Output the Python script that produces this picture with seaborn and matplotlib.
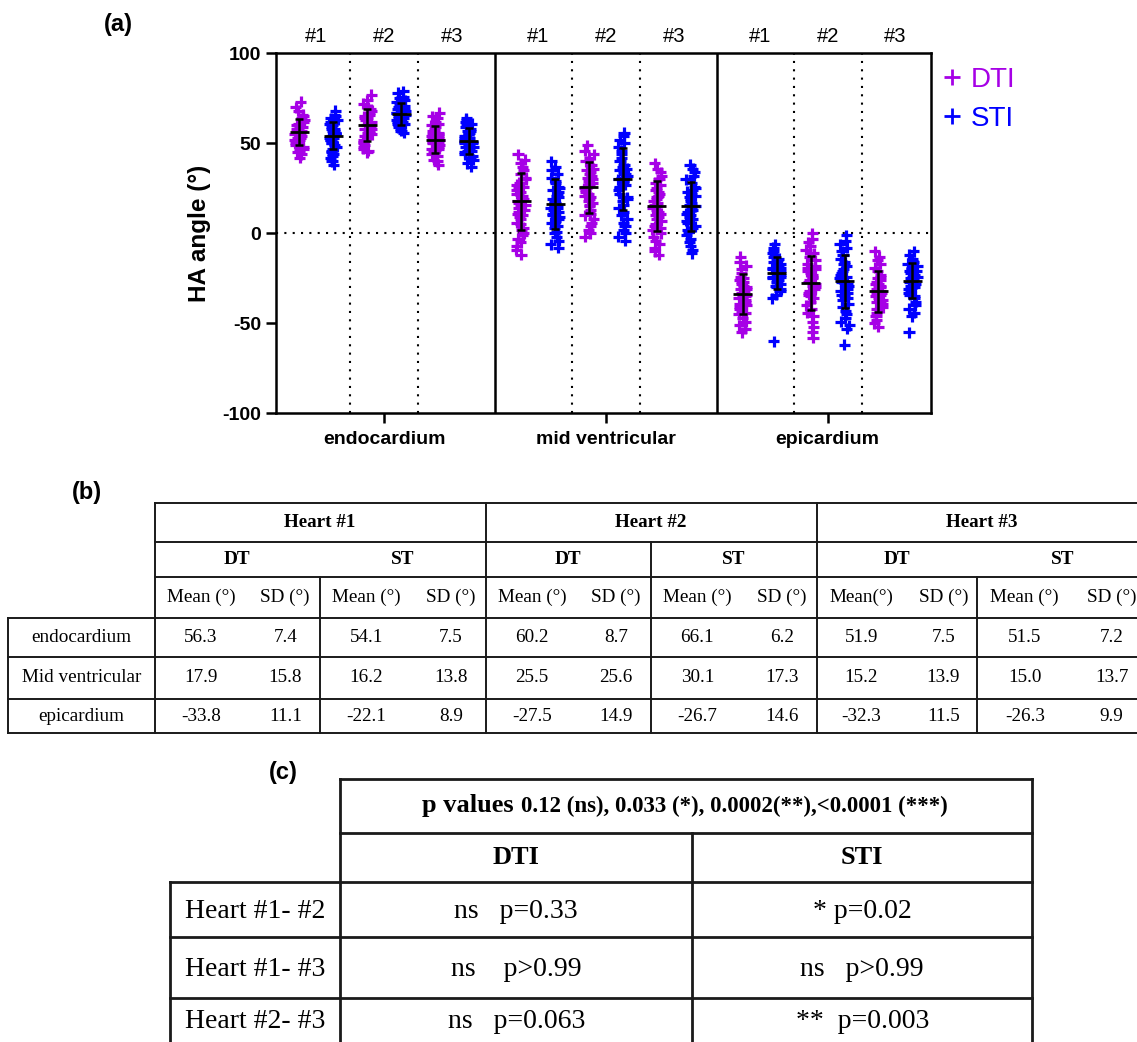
import numpy as np
import pandas as pd
import matplotlib
matplotlib.use("Agg")
import matplotlib.pyplot as plt
from matplotlib.lines import Line2D
import seaborn as sns

# === 1. Datos ===
layers = ["endocardium", "mid ventricular", "epicardium"]
hearts = ["#1", "#2", "#3"]
modalities = ["DTI", "STI"]
colors = {"DTI": "#A600E6", "STI": "#0000FF"}

# HA angle (deg) per voxel (a)
endo_dti_1 = [42, 44, 45, 46, 47, 48, 49, 50, 50, 51, 52, 52, 53, 53, 54, 54, 55, 55, 56, 56,
              57, 57, 58, 58, 59, 59, 60, 60, 61, 62, 63, 64, 65, 66, 68, 70, 73]
endo_sti_1 = [38, 40, 42, 43, 44, 45, 46, 47, 48, 49, 50, 50, 51, 52, 52, 53, 53, 54, 54, 55,
              55, 56, 56, 57, 57, 58, 58, 59, 60, 61, 62, 63, 64, 65, 66, 68]
endo_dti_2 = [45, 46, 47, 48, 49, 50, 51, 52, 53, 54, 55, 56, 56, 57, 58, 58, 59, 59, 60, 60,
              61, 61, 62, 62, 63, 64, 64, 65, 66, 67, 68, 69, 70, 72, 74, 77]
endo_sti_2 = [56, 57, 58, 59, 60, 61, 61, 62, 62, 63, 63, 64, 64, 64, 65, 65, 66, 66, 66, 67,
              67, 67, 68, 68, 69, 69, 70, 70, 71, 72, 73, 74, 75, 76, 78, 79]
endo_dti_3 = [38, 40, 41, 43, 44, 45, 46, 47, 47, 48, 49, 49, 50, 50, 51, 51, 52, 52, 52, 53,
              53, 54, 54, 55, 55, 56, 56, 57, 58, 59, 60, 61, 62, 64, 65, 67]
endo_sti_3 = [37, 39, 41, 42, 43, 44, 45, 46, 46, 47, 48, 48, 49, 50, 50, 51, 51, 51, 52, 52,
              53, 53, 54, 54, 55, 55, 56, 57, 57, 58, 59, 60, 61, 62, 63, 64]

mid_dti_1 = [-12, -9, -7, -5, -3, -1, 0, 2, 3, 5, 6, 8, 9, 10, 11, 12, 13, 14, 15, 16,
             17, 18, 19, 20, 21, 22, 23, 24, 25, 26, 27, 28, 30, 31, 33, 35, 37, 39, 41, 44]
mid_sti_1 = [-8, -6, -4, -2, 0, 1, 3, 4, 6, 7, 8, 9, 10, 11, 12, 13, 14, 14, 15, 16,
             16, 17, 18, 19, 20, 21, 22, 23, 24, 25, 26, 28, 29, 31, 33, 35, 37, 40]
mid_dti_2 = [-2, 0, 2, 4, 6, 8, 10, 11, 12, 13, 15, 16, 17, 18, 19, 20, 21, 22, 23, 24,
             25, 25, 26, 27, 28, 28, 29, 30, 31, 32, 33, 34, 35, 36, 38, 40, 42, 44, 46, 49]
mid_sti_2 = [-4, -2, 0, 2, 4, 6, 8, 10, 12, 14, 16, 18, 19, 20, 22, 24, 25, 26, 27, 28,
             29, 30, 30, 31, 32, 33, 34, 35, 36, 37, 38, 40, 42, 44, 46, 48, 50, 52, 54, 56]
mid_dti_3 = [-12, -10, -8, -6, -4, -2, 0, 2, 3, 4, 5, 7, 8, 9, 10, 11, 12, 13, 14, 15,
             15, 16, 17, 18, 19, 20, 21, 22, 23, 24, 25, 27, 28, 30, 32, 34, 36, 39]
mid_sti_3 = [-11, -9, -7, -5, -3, -1, 1, 2, 3, 4, 6, 7, 8, 9, 10, 11, 12, 13, 14, 15,
             15, 16, 17, 18, 19, 20, 21, 22, 23, 24, 25, 26, 28, 30, 32, 34, 36, 38]

epi_dti_1 = [-55, -53, -51, -49, -47, -45, -44, -43, -42, -41, -40, -39, -38, -37, -36, -36, -35, -34, -34, -33,
             -32, -31, -31, -30, -29, -28, -27, -27, -26, -25, -24, -22, -20, -18, -16, -13]
epi_sti_1 = [-60, -36, -34, -32, -31, -30, -29, -28, -27, -26, -26, -25, -24, -24, -23, -23, -22, -22, -21, -21,
             -20, -20, -19, -19, -18, -17, -16, -15, -14, -13, -12, -11, -10, -8, -6]
epi_dti_2 = [-58, -55, -52, -49, -46, -44, -42, -40, -38, -36, -35, -34, -33, -32, -31, -30, -29, -28, -28, -27,
             -26, -25, -24, -23, -22, -21, -20, -19, -18, -17, -15, -13, -11, -9, -7, -5, -3, 0]
epi_sti_2 = [-62, -53, -51, -49, -47, -45, -43, -41, -39, -37, -36, -35, -34, -33, -32, -31, -30, -29, -28, -27,
             -27, -26, -25, -24, -23, -22, -21, -20, -18, -17, -16, -14, -12, -10, -8, -6, -4, -1]
epi_dti_3 = [-52, -50, -48, -46, -44, -42, -41, -40, -39, -38, -38, -37, -36, -35, -34, -33, -33, -32, -31, -30,
             -30, -29, -28, -28, -27, -26, -25, -24, -23, -21, -19, -17, -15, -13, -10]
epi_sti_3 = [-55, -46, -44, -42, -40, -38, -36, -35, -34, -33, -32, -31, -30, -30, -29, -28, -27, -27, -26, -26,
             -25, -24, -24, -23, -22, -21, -21, -20, -19, -18, -17, -16, -14, -12, -10]

# mean +/- SD error bars drawn in (a), order DTI#1 STI#1 DTI#2 STI#2 DTI#3 STI#3
bar_mean = [[56.3, 54.1, 60.2, 66.1, 51.9, 51.5],
            [17.9, 16.2, 25.5, 30.1, 15.2, 15.0],
            [-33.8, -22.1, -27.5, -26.7, -32.3, -26.3]]
bar_sd = [[7.4, 7.5, 8.7, 6.2, 7.5, 7.2],
          [15.8, 13.8, 14.1, 17.3, 13.9, 13.7],
          [11.1, 8.9, 14.9, 14.6, 11.5, 9.9]]

# table (b)
tab_rows = ["endocardium", "Mid ventricular", "epicardium"]
tab_hearts = ["Heart #1", "Heart #2", "Heart #3"]
tab_mods = ["DT", "ST"]
tab_mean_hdr = ["Mean (°)", "Mean (°)", "Mean (°)", "Mean (°)", "Mean(°)", "Mean (°)"]
tab_mean = [[56.3, 54.1, 60.2, 66.1, 51.9, 51.5],
            [17.9, 16.2, 25.5, 30.1, 15.2, 15.0],
            [-33.8, -22.1, -27.5, -26.7, -32.3, -26.3]]
tab_sd = [[7.4, 7.5, 8.7, 6.2, 7.5, 7.2],
          [15.8, 13.8, 25.6, 17.3, 13.9, 13.7],
          [11.1, 8.9, 14.9, 14.6, 11.5, 9.9]]

# table (c)
p_title = "p values"
p_legend = "0.12 (ns), 0.033 (*), 0.0002(**),<0.0001 (***)"
pairs = ["Heart #1- #2", "Heart #1- #3", "Heart #2- #3"]
p_dti = ["ns   p=0.33", "ns    p>0.99", "ns   p=0.063"]
p_sti = ["* p=0.02", "ns   p>0.99", "**  p=0.003"]

# === 2. Armar DataFrame ===
groups = {
    ("endocardium", "#1", "DTI"): endo_dti_1, ("endocardium", "#1", "STI"): endo_sti_1,
    ("endocardium", "#2", "DTI"): endo_dti_2, ("endocardium", "#2", "STI"): endo_sti_2,
    ("endocardium", "#3", "DTI"): endo_dti_3, ("endocardium", "#3", "STI"): endo_sti_3,
    ("mid ventricular", "#1", "DTI"): mid_dti_1, ("mid ventricular", "#1", "STI"): mid_sti_1,
    ("mid ventricular", "#2", "DTI"): mid_dti_2, ("mid ventricular", "#2", "STI"): mid_sti_2,
    ("mid ventricular", "#3", "DTI"): mid_dti_3, ("mid ventricular", "#3", "STI"): mid_sti_3,
    ("epicardium", "#1", "DTI"): epi_dti_1, ("epicardium", "#1", "STI"): epi_sti_1,
    ("epicardium", "#2", "DTI"): epi_dti_2, ("epicardium", "#2", "STI"): epi_sti_2,
    ("epicardium", "#3", "DTI"): epi_dti_3, ("epicardium", "#3", "STI"): epi_sti_3,
}
rows = []
for (layer, heart, mod), vals in groups.items():
    for v in vals:
        rows.append((layer, heart, mod, v))
df = pd.DataFrame(rows, columns=["layer", "heart", "modality", "angle"])

GAP = 0.54
SEC = 6 + GAP
df["pos"] = (df["layer"].map(layers.index) * SEC
             + df["heart"].map(hearts.index) * 2
             + df["modality"].map(modalities.index))

# === 3. Figura ===
sns.set_style("ticks")
plt.rcParams["font.family"] = ["Liberation Sans", "DejaVu Sans"]
plt.rcParams["axes.unicode_minus"] = False
for key in ("text.color", "axes.labelcolor", "xtick.color", "ytick.color", "axes.edgecolor"):
    plt.rcParams[key] = "black"
SERIF = ["Liberation Serif", "DejaVu Serif"]

W, H = 1137, 1042
fig = plt.figure(figsize=(W / 100, H / 100), dpi=100)

ax = fig.add_axes([275.7 / W, 1 - 413.3 / H, (931 - 275.7) / W, (413.3 - 53.3) / H])
np.random.seed(3)
sns.stripplot(data=df, x="pos", y="angle", hue="modality", palette=colors,
              native_scale=True, jitter=0.14, marker="+", size=8, linewidth=2.3,
              legend=False, ax=ax, zorder=2)

# error bars (mean +/- SD)
for li in range(3):
    for k in range(6):
        x = li * SEC + k
        m, s = bar_mean[li][k], bar_sd[li][k]
        ax.errorbar(x, m, yerr=s, fmt="none", ecolor="black", elinewidth=1.8,
                    capsize=3.2, capthick=1.8, zorder=4)
        ax.hlines(m, x - 0.28, x + 0.28, colors="black", lw=2.0, zorder=4)

dots = (0, (1, 3))
for li in range(3):
    for h in (1.5, 3.5):
        ax.axvline(li * SEC + h, color="black", lw=1.5, ls=dots, zorder=1)
    if li > 0:
        ax.axvline(li * SEC - 0.5 - GAP / 2, color="black", lw=1.8, zorder=1)
ax.axhline(0, color="black", lw=1.5, ls=dots, zorder=1)

ax.set_xlim(-0.70, 18.63)
ax.set_ylim(-100, 100)
ax.set_yticks([-100, -50, 0, 50, 100])
ax.set_xticks([li * SEC + 2.5 for li in range(3)])
ax.set_xticklabels(layers, fontsize=14, fontweight="bold")
for t in ax.get_yticklabels():
    t.set_fontsize(14)
    t.set_fontweight("bold")
ax.tick_params(direction="out", length=7.5, width=1.8, pad=3)
ax.tick_params(axis="x", pad=5)
ax.set_xlabel("")
ax.set_ylabel("HA angle (°)", fontsize=17.5, fontweight="bold", labelpad=8)
for sp in ax.spines.values():
    sp.set_visible(True)
    sp.set_linewidth(1.8)

for li in range(3):
    for hi, h in enumerate(hearts):
        ax.text(li * SEC + hi * 2 + 0.5, 1.046, h, transform=ax.get_xaxis_transform(),
                ha="center", va="center", fontsize=14.5)

handles = [Line2D([], [], ls="", marker="+", color=colors[m], ms=12, mew=2) for m in modalities]
ax.legend(handles, modalities, labelcolor="linecolor", frameon=False, fontsize=20,
          loc="upper left", bbox_to_anchor=(942 / W, 1 - 67 / H), bbox_transform=fig.transFigure,
          handlelength=0.7, handletextpad=0.35, borderpad=0, borderaxespad=0, labelspacing=0.45)

# === 4. Tablas (overlay en pixeles) ===
ov = fig.add_axes([0, 0, 1, 1])
ov.set_xlim(0, W)
ov.set_ylim(H, 0)
ov.axis("off")
ov.patch.set_alpha(0)


def hl(y, x0, x1, lw=1.4):
    ov.plot([x0, x1], [y, y], color="#1a1a1a", lw=lw, solid_capstyle="projecting")


def vl(x, y0, y1, lw=1.4):
    ov.plot([x, x], [y0, y1], color="#1a1a1a", lw=lw, solid_capstyle="projecting")


ov.text(118, 25, "(a)", fontsize=17, fontweight="bold", ha="center", va="center")
ov.text(87, 492, "(b)", fontsize=17, fontweight="bold", ha="center", va="center")
ov.text(283, 772, "(c)", fontsize=17, fontweight="bold", ha="center", va="center")

# table (b)
bx = [154.5, 485.5, 816.5, 1147.5]
by = [503.3, 541.7, 576.7, 617.7, 656.7, 699.3, 733.3]
for y in by[:3]:
    hl(y, bx[0], 1160)
for y in by[3:]:
    hl(y, 8, 1160)
vl(8, by[3], by[6])
for x in bx[:3]:
    vl(x, by[0], by[6])
mid_x = [320, 651, 977]
mid_top = [by[2], by[1], by[2]]
for x, y0 in zip(mid_x, mid_top):
    vl(x, y0, by[6])

fs_b = 13.8
for hi in range(3):
    x0, x1 = bx[hi], bx[hi + 1]
    ov.text((x0 + x1) / 2, (by[0] + by[1]) / 2, tab_hearts[hi], family=SERIF,
            fontweight="bold", fontsize=fs_b, ha="center", va="center")
    subs = [x0, mid_x[hi], x1]
    for mi in range(2):
        s0, s1 = subs[mi], subs[mi + 1]
        ov.text((s0 + s1) / 2, (by[1] + by[2]) / 2, tab_mods[mi], family=SERIF,
                fontweight="bold", fontsize=fs_b, ha="center", va="center")
        k = hi * 2 + mi
        xm = s0 + 0.28 * (s1 - s0)
        xs = s0 + 0.79 * (s1 - s0)
        ov.text(xm, (by[2] + by[3]) / 2, tab_mean_hdr[k], family=SERIF,
                fontsize=fs_b, ha="center", va="center")
        ov.text(xs, (by[2] + by[3]) / 2, "SD (°)", family=SERIF,
                fontsize=fs_b, ha="center", va="center")
        for ri in range(3):
            yc = (by[3 + ri] + by[4 + ri]) / 2
            ov.text(xm, yc, f"{tab_mean[ri][k]:.1f}", family=SERIF, fontsize=fs_b,
                    ha="center", va="center")
            ov.text(xs, yc, f"{tab_sd[ri][k]:.1f}", family=SERIF, fontsize=fs_b,
                    ha="center", va="center")
for ri in range(3):
    ov.text((8 + bx[0]) / 2, (by[3 + ri] + by[4 + ri]) / 2, tab_rows[ri], family=SERIF,
            fontsize=fs_b, ha="center", va="center")

# table (c)
cx = [170, 340, 692.4, 1032]
cy = [779, 832.7, 882, 937.3, 997.7, 1058]
hl(cy[0], cx[1], cx[3], 2)
hl(cy[1], cx[1], cx[3], 2)
for y in cy[2:]:
    hl(y, cx[0], cx[3], 2)
vl(cx[1], cy[0], cy[5], 2)
vl(cx[3], cy[0], cy[5], 2)
vl(cx[2], cy[1], cy[5], 2)
vl(cx[0], cy[2], cy[5], 2)

yh = (cy[0] + cy[1]) / 2
ov.text(514, yh, p_title, family=SERIF, fontweight="bold", fontsize=19, ha="right", va="center")
ov.text(521, yh + 1, p_legend, family=SERIF, fontweight="bold", fontsize=16.5, ha="left", va="center")
for mi, lab in enumerate(["DTI", "STI"]):
    ov.text((cx[1 + mi] + cx[2 + mi]) / 2, (cy[1] + cy[2]) / 2, lab, family=SERIF,
            fontweight="bold", fontsize=19, ha="center", va="center")
for ri in range(3):
    yc = (cy[2 + ri] + cy[3 + ri]) / 2 + 2
    if ri == 2:
        yc = 1022
    ov.text((cx[0] + cx[1]) / 2, yc, pairs[ri], family=SERIF, fontsize=20, ha="center", va="center")
    ov.text((cx[1] + cx[2]) / 2, yc, p_dti[ri], family=SERIF, fontsize=20, ha="center", va="center")
    ov.text((cx[2] + cx[3]) / 2, yc, p_sti[ri], family=SERIF, fontsize=20, ha="center", va="center")

fig.savefig("out.png", dpi=100)
